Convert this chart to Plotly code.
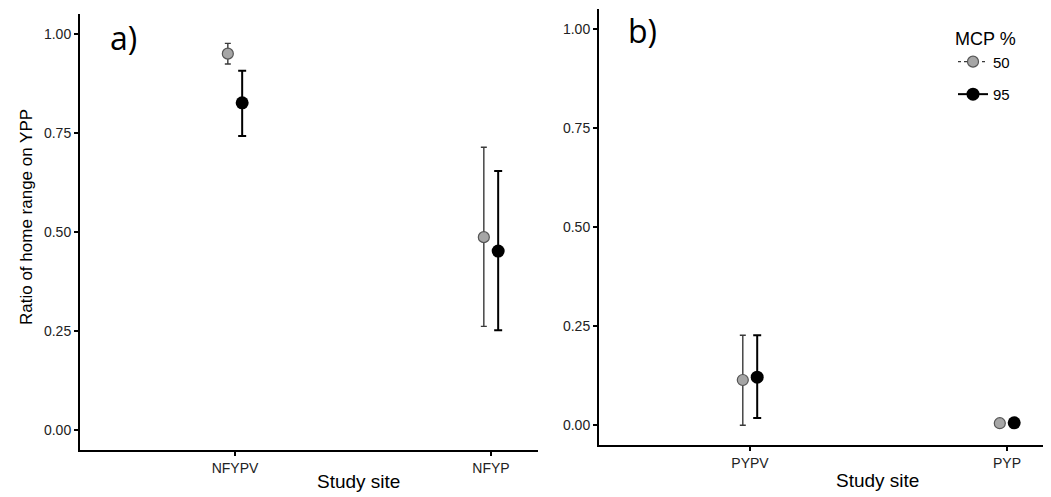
import plotly.graph_objects as go

# ---- data ----
sites_a = ["NFYPV", "NFYP"]
sites_b = ["PYPV", "PYP"]
groups = ["50", "95"]

mean50_a = [0.950, 0.487]
lo50_a = [0.924, 0.262]
hi50_a = [0.976, 0.714]
mean95_a = [0.826, 0.452]
lo95_a = [0.742, 0.252]
hi95_a = [0.907, 0.654]

mean50_b = [0.114, 0.005]
lo50_b = [0.000, 0.005]
hi50_b = [0.227, 0.005]
mean95_b = [0.121, 0.006]
lo95_b = [0.018, 0.006]
hi95_b = [0.227, 0.006]

OFF = 8                      # browser default body margin
W, H = 1051 - OFF, 497 - OFF
DODGE = 0.028
FONT = "Liberation Sans, Arial, sans-serif"


def px(x):  # page pixel -> paper x
    return (x - OFF) / W


def py(y):  # page pixel -> paper y
    return 1 - (y - OFF) / H


col50_fill, col50_line, col50_err = "#a6a6a6", "#555555", "#3a3a3a"
col95 = "#000000"

fig = go.Figure()


def add_pair(xref, yref, means50, lo50, hi50, means95, lo95, hi95):
    n = len(means50)
    x50 = [i + 1 - DODGE for i in range(n)]
    x95 = [i + 1 + DODGE for i in range(n)]
    fig.add_trace(go.Scatter(
        x=x50, y=means50, mode="markers", xaxis=xref, yaxis=yref, showlegend=False,
        marker=dict(size=11, color=col50_fill, line=dict(color=col50_line, width=1.2)),
        error_y=dict(type="data", symmetric=False,
                     array=[h - m for h, m in zip(hi50, means50)],
                     arrayminus=[m - l for m, l in zip(means50, lo50)],
                     color=col50_err, thickness=1.4, width=3),
    ))
    fig.add_trace(go.Scatter(
        x=x95, y=means95, mode="markers", xaxis=xref, yaxis=yref, showlegend=False,
        marker=dict(size=13, color=col95, line=dict(color=col95, width=0)),
        error_y=dict(type="data", symmetric=False,
                     array=[h - m for h, m in zip(hi95, means95)],
                     arrayminus=[m - l for m, l in zip(means95, lo95)],
                     color=col95, thickness=2, width=4),
    ))


add_pair("x", "y", mean50_a, lo50_a, hi50_a, mean95_a, lo95_a, hi95_a)
add_pair("x2", "y2", mean50_b, lo50_b, hi50_b, mean95_b, lo95_b, hi95_b)

# legend-only entries
fig.add_trace(go.Scatter(x=[None], y=[None], mode="lines+markers", name=groups[0],
                         legendgroup="g50", xaxis="x2", yaxis="y2",
                         marker=dict(size=11, color=col50_fill, line=dict(color=col50_line, width=1.2)),
                         line=dict(color=col50_err, width=1.2, dash="dot")))
fig.add_trace(go.Scatter(x=[None], y=[None], mode="lines+markers", name=groups[1],
                         legendgroup="g95", xaxis="x2", yaxis="y2",
                         marker=dict(size=13, color=col95),
                         line=dict(color=col95, width=2)))

axis_common = dict(
    showline=True, linecolor="black", linewidth=2, mirror=False, automargin=False,
    showgrid=False, zeroline=False, ticks="outside", ticklen=4, tickwidth=1.5,
    tickcolor="black",
)
yfont = dict(family=FONT, size=14, color="#222222")
xfont = dict(family=FONT, size=14, color="#222222")

fig.update_layout(
    width=W, height=H,
    margin=dict(l=0, r=0, t=0, b=0),
    paper_bgcolor="white", plot_bgcolor="white",
    font=dict(family=FONT, color="black"),
    xaxis=dict(domain=[px(80), px(538)], range=[1 - 155 / 256, 2 + 47 / 256],
               tickvals=[1, 2], ticktext=sites_a, anchor="y", tickfont=xfont, **axis_common),
    yaxis=dict(domain=[py(450), py(14)], range=[-0.05, 1.05],
               tickvals=[0, 0.25, 0.5, 0.75, 1.0], tickformat=".2f", anchor="x",
               tickfont=yfont, **axis_common),
    xaxis2=dict(domain=[px(599), 1.0], range=[1 - 151 / 257, 2 + 44 / 257],
                tickvals=[1, 2], ticktext=sites_b, anchor="y2", tickfont=xfont, **axis_common),
    yaxis2=dict(domain=[py(445), py(9)], range=[-0.05, 1.05],
                tickvals=[0, 0.25, 0.5, 0.75, 1.0], tickformat=".2f", anchor="x2",
                tickfont=yfont, **axis_common),
    legend=dict(x=px(953), y=py(22), xanchor="left", yanchor="top",
                title=dict(text="MCP %", font=dict(family=FONT, size=18, color="black")),
                font=dict(family=FONT, size=15, color="black"),
                traceorder="grouped", tracegroupgap=10, bgcolor="rgba(0,0,0,0)",
                itemwidth=30),
    showlegend=True,
)

annotations = [
    dict(text="a)", x=px(123), y=py(37), xref="paper", yref="paper",
         showarrow=False, font=dict(family="Open Sans, sans-serif", size=32, color="black"),
         xanchor="center", yanchor="middle"),
    dict(text="b)", x=px(642), y=py(31), xref="paper", yref="paper",
         showarrow=False, font=dict(family="Open Sans, sans-serif", size=32, color="black"),
         xanchor="center", yanchor="middle"),
    dict(text="Ratio of home range on YPP", x=px(26), y=py(217), xref="paper", yref="paper",
         showarrow=False, textangle=-90, font=dict(family=FONT, size=17, color="black"),
         xanchor="center", yanchor="middle"),
    dict(text="Study site", x=px(358), y=py(481), xref="paper", yref="paper",
         showarrow=False, font=dict(family=FONT, size=19, color="black"),
         xanchor="center", yanchor="middle"),
    dict(text="Study site", x=px(877), y=py(480), xref="paper", yref="paper",
         showarrow=False, font=dict(family=FONT, size=19, color="black"),
         xanchor="center", yanchor="middle"),
]
fig.update_layout(annotations=annotations)

fig.write_html("out.html")
